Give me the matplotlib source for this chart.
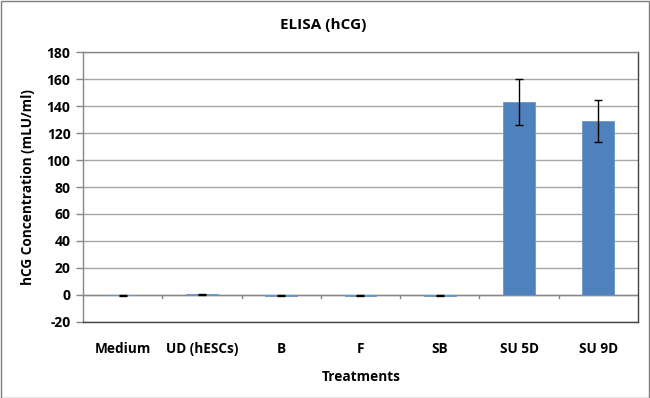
import matplotlib
matplotlib.use("Agg")
import matplotlib.pyplot as plt
from matplotlib.patches import Rectangle
import numpy as np

categories = ["Medium", "UD (hESCs)", "B", "F", "SB", "SU 5D", "SU 9D"]
hcg_values = [-0.3, 0.5, -0.5, -0.5, -0.5, 143.0, 128.8]
hcg_errors = [0.2, 0.4, 0.5, 0.5, 0.5, 16.8, 15.6]
y_ticks = [-20, 0, 20, 40, 60, 80, 100, 120, 140, 160, 180]

plt.rcParams['font.family'] = ['Open Sans', 'DejaVu Sans']

fig = plt.figure(figsize=(6.5, 3.98), dpi=100)
fig.patches.append(Rectangle((0.001, 0.001), 0.997, 0.996, transform=fig.transFigure,
                             fill=False, edgecolor="#7f7f7f", linewidth=1.0))
ax = fig.add_axes([0.1277, 0.191, 0.8538, 0.6783])

x = np.arange(len(categories))
ax.bar(x, hcg_values, width=0.4, color="#4F81BD", edgecolor="#6c97c9", linewidth=0.6,
       yerr=hcg_errors, capsize=3,
       error_kw=dict(ecolor="black", elinewidth=1.0, capthick=1.0), zorder=3)

ax.set_xlim(-0.5, len(categories) - 0.5)
ax.set_ylim(y_ticks[0], y_ticks[-1])
ax.set_yticks(y_ticks)
ax.set_yticklabels([str(v) for v in y_ticks], fontsize=10, fontweight="bold")
ax.yaxis.grid(True, color="#a6a6a6", linewidth=1.0, zorder=0)
ax.tick_params(axis="y", length=5, color="#868686", width=1.0, pad=4)

# category labels below the plot, ticks on the zero line
ax.set_xticks([])
for xi, lab in zip(x, categories):
    ax.text(xi, -0.1, lab, transform=ax.get_xaxis_transform(), ha="center", va="center",
            fontsize=9.8, fontweight="bold")
ax.axhline(0, color="#868686", linewidth=1.0, zorder=2)
for b in np.arange(0.5, len(categories) - 0.5, 1.0):
    ax.plot([b, b], [0, -2.5], color="#868686", linewidth=1.0, zorder=2, clip_on=False)

for s in ax.spines.values():
    s.set_color("#868686")
    s.set_linewidth(1.0)
ax.spines["bottom"].set_color("#404040")
ax.spines["right"].set_color("#404040")

ax.set_ylabel("hCG Concentration (mLU/ml)", fontsize=9.8, fontweight="bold")
ax.yaxis.set_label_coords(-0.086, 0.5)
fig.text(0.497, 0.937, "ELISA (hCG)", ha="center", va="center", fontsize=11, fontweight="bold")
fig.text(0.556, 0.053, "Treatments", ha="center", va="center", fontsize=9.8, fontweight="bold")

fig.savefig("out.png", dpi=100)
